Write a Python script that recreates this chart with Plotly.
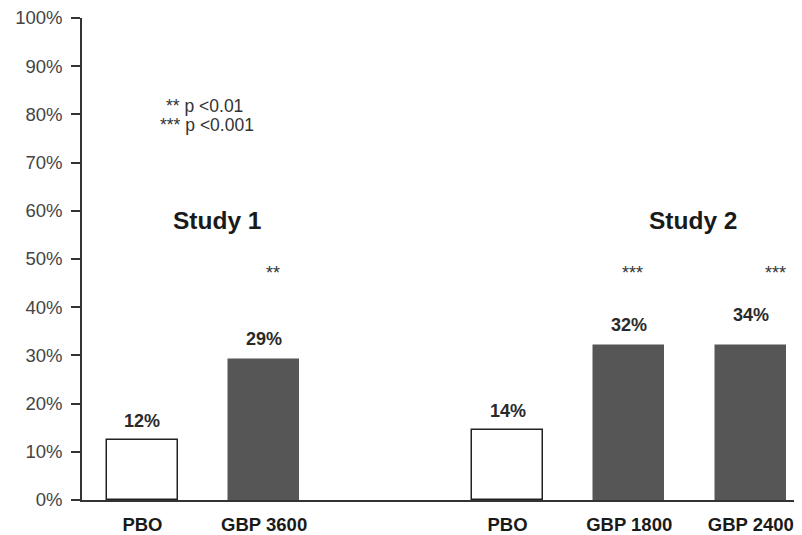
import plotly.graph_objects as go

categories = ["PBO", "GBP 3600", "PBO", "GBP 1800", "GBP 2400"]
positions = [0, 1, 3, 4, 5]
bar_values = [12.5, 29, 14.5, 32, 32]
value_labels = ["12%", "29%", "14%", "32%", "34%"]
label_values = [12, 29, 14, 32, 34]
significance = ["", "**", "", "***", "***"]
bar_fill = ["white", "#565656", "white", "#565656", "#565656"]
bar_line = ["#222222", "#565656", "#222222", "#565656", "#565656"]
study_titles = ["Study 1", "Study 2"]
y_ticks = list(range(0, 101, 10))

FONT = "Liberation Sans, Arial, sans-serif"

fig = go.Figure()
fig.add_trace(go.Bar(
    x=positions, y=bar_values, width=0.58,
    marker=dict(color=bar_fill, line=dict(color=bar_line, width=1.5)),
    hoverinfo="skip", showlegend=False,
))

ann = []
for p, lv, t in zip(positions, label_values, value_labels):
    ann.append(dict(x=p, y=lv + 4.4, text="<b>" + t + "</b>", showarrow=False,
                    font=dict(family=FONT, size=18, color="#2a2a2a"), xanchor="center", yanchor="middle"))
star_dx = {1: 0.07, 4: 0.03, 5: 0.2}
for p, s in zip(positions, significance):
    if s:
        ann.append(dict(x=p + star_dx.get(p, 0), y=47.2, text=s, showarrow=False,
                        font=dict(family=FONT, size=18, color="#333"), xanchor="center", yanchor="middle"))
study_x = [0.616, 4.53]
for c, t in zip(study_x, study_titles):
    ann.append(dict(x=c, y=58.0, text="<b>" + t + "</b>", showarrow=False,
                    font=dict(family=FONT, size=24.5, color="#1a1a1a"), xanchor="center", yanchor="middle"))
ann.append(dict(x=0.18, y=81.7, text="** p <0.01", showarrow=False, xanchor="left", yanchor="middle",
                font=dict(family=FONT, size=17.5, color="#333")))
ann.append(dict(x=0.13, y=77.8, text="*** p <0.001", showarrow=False, xanchor="left", yanchor="middle",
                font=dict(family=FONT, size=17.5, color="#333")))

# page body has an 8px margin, so compensate in the figure margins
fig.update_layout(
    width=802, height=535,
    margin=dict(l=74, r=0, t=10, b=43),
    plot_bgcolor="white", paper_bgcolor="white",
    annotations=ann,
    bargap=0,
)
fig.update_xaxes(
    range=[-0.497, 5.486], tickmode="array", tickvals=positions,
    ticktext=["<b>" + c + "</b>" for c in categories],
    tickfont=dict(family=FONT, size=18.5, color="#1a1a1a"),
    showline=True, linecolor="#333", linewidth=1.5, ticks="", showgrid=False, zeroline=False,
    ticklabelstandoff=7,
)
fig.update_yaxes(
    range=[0, 100], tickmode="array", tickvals=y_ticks,
    ticktext=[f"{v}%" for v in y_ticks],
    tickfont=dict(family=FONT, size=18.5, color="#444"),
    showline=True, linecolor="#333", linewidth=1.5, ticks="outside", ticklen=9, tickwidth=1.5,
    tickcolor="#333", showgrid=False, zeroline=False, ticklabelstandoff=5,
    ticklabeloverflow="allow",
)

fig.write_html("out.html")
